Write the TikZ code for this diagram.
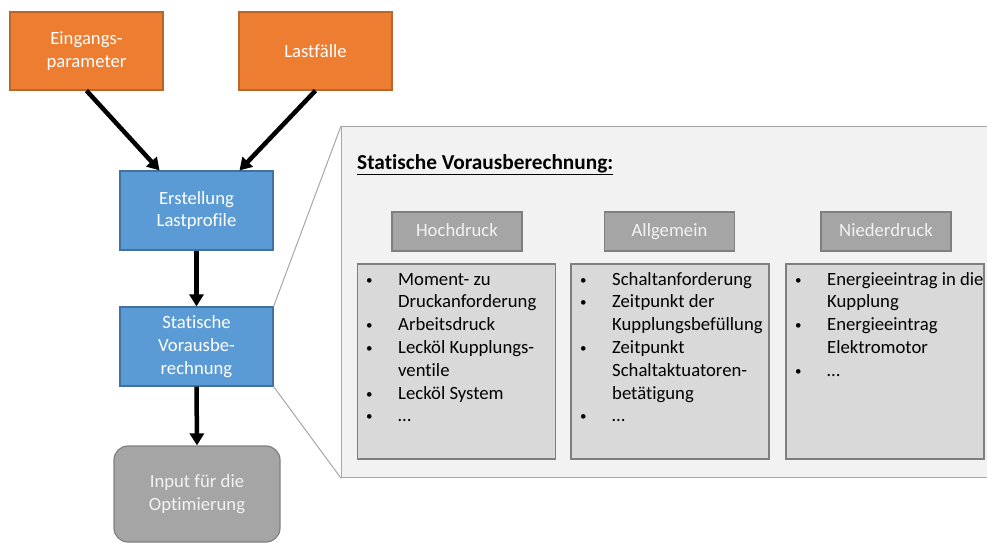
\documentclass[tikz,border=0pt]{standalone}
\usepackage{fontspec}
\setmainfont[Ligatures=NoCommon]{Carlito}
\usetikzlibrary{arrows.meta}

\definecolor{orangefill}{HTML}{ED7D31}
\definecolor{orangeline}{HTML}{B9662A}
\definecolor{bluefill}{HTML}{5B9BD5}
\definecolor{blueline}{HTML}{41719C}
\definecolor{grayfill}{HTML}{A5A5A5}
\definecolor{grayline}{HTML}{7F7F7F}
\definecolor{listfill}{HTML}{D9D9D9}
\definecolor{panelfill}{HTML}{F2F2F2}
\definecolor{panelline}{HTML}{A6A6A6}
\definecolor{lighttext}{HTML}{F2F2F2}

% small bullet for the list columns
\newcommand{\bul}{\hspace{1pt}\raisebox{1pt}{\fontsize{13}{13}\selectfont •}}
% bullet list as a two-column table: bullet column + text column
\newenvironment{blist}{\begin{tabular}{@{}p{33pt}@{}l@{}}}{\end{tabular}}

\begin{document}
\begin{tikzpicture}[x=1pt,y=-1pt,
  basefont/.style={font=\fontsize{18.7}{22.8}\selectfont},
  obox/.style={basefont, draw=orangeline, fill=orangefill, line width=1.2pt,
    text=white, align=center, minimum width=153pt, minimum height=78pt, inner sep=0pt},
  bbox/.style={basefont, draw=blueline, fill=bluefill, line width=1.2pt,
    text=white, align=center, minimum width=153pt, minimum height=79pt, inner sep=0pt},
  rbox/.style={basefont, draw=grayline, fill=grayfill, line width=1.2pt,
    text=lighttext, align=center, minimum width=166pt, minimum height=96pt,
    rounded corners=14pt, inner sep=0pt},
  hbox/.style={basefont, draw=grayline, fill=grayfill, line width=1.2pt,
    text=lighttext, align=center, minimum width=130pt, minimum height=39pt,
    text height=13pt, text depth=4pt, inner sep=0pt},
  lbox/.style={draw=grayline, fill=listfill, line width=1.2pt,
    minimum width=198pt, minimum height=195pt, inner sep=0pt},
  listtext/.style={basefont, anchor=north west, inner sep=0pt, text=black},
  flow/.style={line width=4.5pt, -{Triangle[length=12pt,width=14pt]}},
  zoomline/.style={draw=panelline, line width=1pt}
]
\useasboundingbox (0,0) rectangle (987,542);
\clip (0,0) rectangle (987,542);

% inputs
\node[obox] (ein) at (86.5,51) {Eingangs-\\parameter};
\node[obox] (last) at (315.5,51) {Lastfälle};

% process chain
\node[bbox] (erst) at (196.5,210.5) {Erstellung\\Lastprofile};
\node[bbox] (stat) at (196.5,346.5) {Statische\\Vorausbe-\\rechnung};
\node[rbox] (inp) at (197,494) {Input für die\\Optimierung};

% detail panel
\node[draw=panelline, fill=panelfill, line width=1.2pt, minimum width=670pt,
  minimum height=351pt, inner sep=0pt, anchor=north west] (panel) at (341,126) {};
\draw[zoomline] (stat.north east) -- (panel.north west);
\draw[zoomline] (stat.south east) -- (panel.south west);

\node[font=\fontsize{21.3}{25}\selectfont\bfseries, anchor=base west, inner sep=0pt]
  (title) at (357,169) {\underline{Statische Vorausberechnung:}};

% column headers
\node[hbox] (hoch) at (457,231.5) {Hochdruck};
\node[hbox] (allg) at (669.5,231.5) {Allgemein};
\node[hbox] (nied) at (886,231.5) {Niederdruck};

% column lists
\node[lbox] (hl) at (456.5,361.5) {};
\node[lbox] (al) at (670,361.5) {};
\node[lbox] (nl) at (885,361.5) {};

\node[listtext] (hlt) at (365,269) {\begin{blist}
  \bul & Moment- zu\\
       & Druckanforderung\\
  \bul & Arbeitsdruck\\
  \bul & Lecköl Kupplungs-\\
       & ventile\\
  \bul & Lecköl System\\
  \bul & …
\end{blist}};
\node[listtext] (alt) at (579,269) {\begin{blist}
  \bul & Schaltanforderung\\
  \bul & Zeitpunkt der\\
       & Kupplungsbefüllung\\
  \bul & Zeitpunkt\\
       & Schaltaktuatoren-\\
       & betätigung\\
  \bul & …
\end{blist}};
\node[listtext] (nlt) at (794,269) {\begin{blist}
  \bul & Energieeintrag in die\\
       & Kupplung\\
  \bul & Energieeintrag\\
       & Elektromotor\\
  \bul & …
\end{blist}};

% connectors
\draw[flow] (ein.south) -- ([xshift=-37pt]erst.north);
\draw[flow] (last.south) -- ([xshift=43pt]erst.north);
\draw[flow] (erst.south) -- (stat.north);
\draw[flow] (stat.south) -- (inp.north);
\end{tikzpicture}
\end{document}
